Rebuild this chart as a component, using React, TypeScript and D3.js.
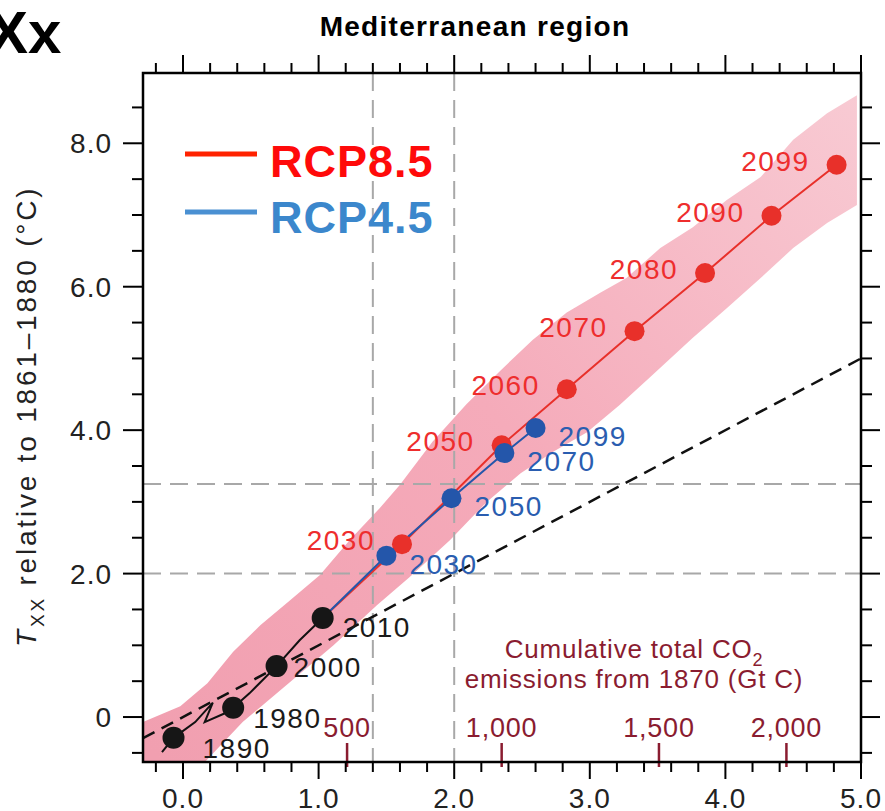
import React from "react";
import * as d3 from "d3";

// ---------- data ----------
const rcp85Years = [2030, 2050, 2060, 2070, 2080, 2090, 2099];
const rcp85X = [1.615, 2.35, 2.83, 3.33, 3.85, 4.34, 4.82];
const rcp85Y = [2.41, 3.79, 4.57, 5.38, 6.19, 6.99, 7.7];

const rcp45Years = [2030, 2050, 2070, 2099];
const rcp45X = [1.5, 1.98, 2.37, 2.6];
const rcp45Y = [2.25, 3.05, 3.68, 4.03];

const histYears = [1890, 1980, 2000, 2010];
const histX = [-0.07, 0.37, 0.69, 1.03];
const histY = [-0.29, 0.13, 0.71, 1.38];

// historical trace (with the early zig-zag)
const histTraceX = [-0.155, -0.07, 0.09, 0.22, 0.16, 0.33, 0.37, 0.49, 0.69, 0.86, 1.03];
const histTraceY = [-0.49, -0.29, -0.07, 0.2, -0.07, 0.07, 0.13, 0.33, 0.71, 1.07, 1.38];

// uncertainty band edges
const bandUpperX = [-0.295, -0.02, 0.18, 0.37, 0.57, 0.79, 1.01, 1.23, 1.45, 1.6, 1.84, 2.09, 2.34, 2.58, 2.83, 3.08, 3.27, 3.52, 3.76, 4.01, 4.26, 4.5, 4.75, 4.97];
const bandUpperY = [-0.07, 0.15, 0.47, 0.91, 1.28, 1.63, 1.98, 2.47, 2.91, 3.24, 3.84, 4.36, 4.83, 5.26, 5.64, 5.92, 6.12, 6.54, 6.83, 7.21, 7.53, 8.05, 8.42, 8.67];
const bandLowerX = [-0.295, 0.16, 0.44, 0.79, 1.11, 1.43, 1.67, 1.97, 2.24, 2.49, 2.73, 2.98, 3.22, 3.44, 3.76, 4.01, 4.26, 4.5, 4.75, 4.97];
const bandLowerY = [-0.63, -0.63, -0.07, 0.49, 1.0, 1.56, 1.95, 2.47, 3.0, 3.4, 3.7, 3.97, 4.35, 4.73, 5.29, 5.7, 6.12, 6.54, 6.89, 7.14];

const refLineX = [-0.295, 5.0];
const refLineY = [-0.295, 5.0];

const gridX = [1.4, 2.0];
const gridY = [2.0, 3.25];

const xTickValues = [0, 1, 2, 3, 4, 5];
const xTickLabels = ["0.0", "1.0", "2.0", "3.0", "4.0", "5.0"];
const yTickValues = [0, 2, 4, 6, 8];
const yTickLabels = ["0", "2.0", "4.0", "6.0", "8.0"];

const co2TickLabels = ["500", "1,000", "1,500", "2,000"];
const co2TickPos = [1.21, 2.35, 3.51, 4.45];

const legendLabels = ["RCP8.5", "RCP4.5"];

// ---------- layout / style ----------
const W = 885;
const H = 811;
const L = 143, R = 861, T = 73, B = 762;
const FONT = "'Liberation Sans', Arial, Helvetica, sans-serif";
const RED = "#e8302a";
const RED_TXT = "#ee2d2d";
const BLUE = "#2456aa";
const BLUE_TXT = "#2a5db0";
const CO2 = "#8a1c30";
const histLabelOffsets = [[29, 20], [20, 20], [17, 11], [20, 19]];

export default function App() {
  const x = d3.scaleLinear().domain([-0.295, 5.0]).range([L, R]);
  const y = d3.scaleLinear().domain([-0.627, 8.98]).range([B, T]);

  const line = d3.line<[number, number]>().x((d) => x(d[0])).y((d) => y(d[1]));
  const closed = d3
    .line<[number, number]>()
    .x((d) => x(d[0]))
    .y((d) => y(d[1]))
    .curve(d3.curveLinearClosed);

  const bandPts: [number, number][] = [
    ...bandUpperX.map((v, i) => [v, bandUpperY[i]] as [number, number]),
    ...bandLowerX.map((v, i) => [v, bandLowerY[i]] as [number, number]).reverse(),
  ];

  const start: [number, number] = [histX[3], histY[3]];
  const red: [number, number][] = [start, ...rcp85X.map((v, i) => [v, rcp85Y[i]] as [number, number])];
  const blue: [number, number][] = [start, ...rcp45X.map((v, i) => [v, rcp45Y[i]] as [number, number])];
  const hist: [number, number][] = histTraceX.map((v, i) => [v, histTraceY[i]]);

  const xMinor = d3.range(-1, 26).map((i) => ({ v: i * 0.2, major: i % 5 === 0 }));
  const yMinor = d3.range(-1, 18).map((i) => ({ v: i * 0.5, major: i % 4 === 0 }));

  const txt = { fontFamily: FONT } as const;

  return (
    <svg width={W} height={H} style={{ position: "absolute", left: 0, top: 0, background: "#fff" }}>
      <defs>
        <linearGradient id="bandGrad" gradientUnits="userSpaceOnUse" x1={160} y1={760} x2={860} y2={100}>
          <stop offset="0" stopColor="#f19fb0" />
          <stop offset="0.5" stopColor="#f5abba" />
          <stop offset="1" stopColor="#f8cad3" />
        </linearGradient>
        <clipPath id="plotClip">
          <rect x={L} y={T} width={R - L} height={B - T} />
        </clipPath>
      </defs>

      {/* panel letter and title */}
      <text x={-12} y={53} fontSize={60} fontWeight="bold" style={txt}>Xx</text>
      <text x={475} y={36} fontSize={28} fontWeight="bold" textAnchor="middle" letterSpacing={1.3} style={txt}>
        Mediterranean region
      </text>

      <g clipPath="url(#plotClip)">
        <path d={closed(bandPts) || ""} fill="url(#bandGrad)" />
        {gridX.map((v) => (
          <line key={"gx" + v} x1={x(v)} x2={x(v)} y1={T} y2={B} stroke="#a8a8a8" strokeWidth={2} strokeDasharray="18 9" />
        ))}
        {gridY.map((v) => (
          <line key={"gy" + v} x1={L} x2={R} y1={y(v)} y2={y(v)} stroke="#a8a8a8" strokeWidth={2} strokeDasharray="18 9" />
        ))}
        <path
          d={line(refLineX.map((v, i) => [v, refLineY[i]] as [number, number])) || ""}
          fill="none"
          stroke="#111"
          strokeWidth={2.5}
          strokeDasharray="13 8"
        />
        <path d={line(hist) || ""} fill="none" stroke="#111" strokeWidth={2} />
        <path d={line(red) || ""} fill="none" stroke={RED} strokeWidth={2} />
        <path d={line(blue) || ""} fill="none" stroke={BLUE} strokeWidth={2} />
      </g>

      {/* CO2 secondary ticks */}
      {co2TickPos.map((v, i) => (
        <g key={"co2" + i}>
          <line x1={x(v)} x2={x(v)} y1={743} y2={767} stroke={CO2} strokeWidth={2.5} />
          <text x={x(v)} y={737} textAnchor="middle" fontSize={27} fill={CO2} letterSpacing={0.8} style={txt}>
            {co2TickLabels[i]}
          </text>
        </g>
      ))}
      <text x={634} y={658} textAnchor="middle" fontSize={26} fill={CO2} letterSpacing={0.8} style={txt}>
        Cumulative total CO<tspan fontSize={18} dy={8}>2</tspan>
      </text>
      <text x={634} y={688} textAnchor="middle" fontSize={26} fill={CO2} letterSpacing={0.8} style={txt}>
        emissions from 1870 (Gt C)
      </text>

      {/* points */}
      {histX.map((v, i) => (
        <circle key={"hp" + i} cx={x(v)} cy={y(histY[i])} r={11} fill="#161616" />
      ))}
      {rcp85X.map((v, i) => (
        <circle key={"rp" + i} cx={x(v)} cy={y(rcp85Y[i])} r={10} fill={RED} />
      ))}
      {rcp45X.map((v, i) => (
        <circle key={"bp" + i} cx={x(v)} cy={y(rcp45Y[i])} r={10} fill={BLUE} />
      ))}

      {/* year labels */}
      {histYears.map((yr, i) => (
        <text
          key={"hl" + yr}
          x={x(histX[i]) + histLabelOffsets[i][0]}
          y={y(histY[i]) + histLabelOffsets[i][1]}
          fontSize={28}
          fill="#1a1a1a"
          letterSpacing={1.5}
          style={txt}
        >
          {yr}
        </text>
      ))}
      {rcp85Years.map((yr, i) => (
        <text
          key={"rl" + yr}
          x={x(rcp85X[i]) - 27}
          y={y(rcp85Y[i]) + 6}
          textAnchor="end"
          fontSize={28}
          fill={RED_TXT}
          letterSpacing={1.5}
          style={txt}
        >
          {yr}
        </text>
      ))}
      {rcp45Years.map((yr, i) => (
        <text
          key={"bl" + yr}
          x={x(rcp45X[i]) + 23}
          y={y(rcp45Y[i]) + 18}
          fontSize={28}
          fill={BLUE_TXT}
          letterSpacing={1.5}
          style={txt}
        >
          {yr}
        </text>
      ))}

      {/* frame */}
      <rect x={L} y={T} width={R - L} height={B - T} fill="none" stroke="#000" strokeWidth={2.5} />

      {/* ticks */}
      {xMinor.map((t, i) => (
        <g key={"xt" + i}>
          <line x1={x(t.v)} x2={x(t.v)} y1={B} y2={B + (t.major ? 17 : 10)} stroke="#000" strokeWidth={2} />
          <line x1={x(t.v)} x2={x(t.v)} y1={T} y2={T - (t.major ? 18 : 10)} stroke="#000" strokeWidth={2} />
        </g>
      ))}
      {yMinor.map((t, i) => (
        <g key={"yt" + i}>
          <line x1={L} x2={L - (t.major ? 20 : 11)} y1={y(t.v)} y2={y(t.v)} stroke="#000" strokeWidth={2} />
          <line x1={R} x2={R + (t.major ? 19 : 11)} y1={y(t.v)} y2={y(t.v)} stroke="#000" strokeWidth={2} />
        </g>
      ))}
      {xTickValues.map((v, i) => (
        <text key={"xl" + v} x={x(v)} y={808} textAnchor="middle" fontSize={28} letterSpacing={1} fill="#222" style={txt}>
          {xTickLabels[i]}
        </text>
      ))}
      {yTickValues.map((v, i) => (
        <text key={"yl" + v} x={112} y={y(v) + 10} textAnchor="end" fontSize={28} letterSpacing={1} fill="#222" style={txt}>
          {yTickLabels[i]}
        </text>
      ))}

      {/* y axis title */}
      <text transform="rotate(-90)" x={-647} y={36} fontSize={28} fill="#222" letterSpacing={2.8} style={txt}>
        <tspan fontStyle="italic">T</tspan>
        <tspan fontSize={19} dy={8}>XX</tspan>
        <tspan dy={-8}> relative to 1861–1880 (°C)</tspan>
      </text>

      {/* legend */}
      <line x1={185} x2={257} y1={154} y2={154} stroke="#ff2200" strokeWidth={5} />
      <text x={270} y={177} fontSize={45} fontWeight="bold" fill="#ff0a0a" letterSpacing={1} style={txt}>
        {legendLabels[0]}
      </text>
      <line x1={185} x2={257} y1={212} y2={212} stroke="#4a90d2" strokeWidth={5} />
      <text x={270} y={233} fontSize={45} fontWeight="bold" fill="#3b87cc" letterSpacing={1} style={txt}>
        {legendLabels[1]}
      </text>
    </svg>
  );
}
